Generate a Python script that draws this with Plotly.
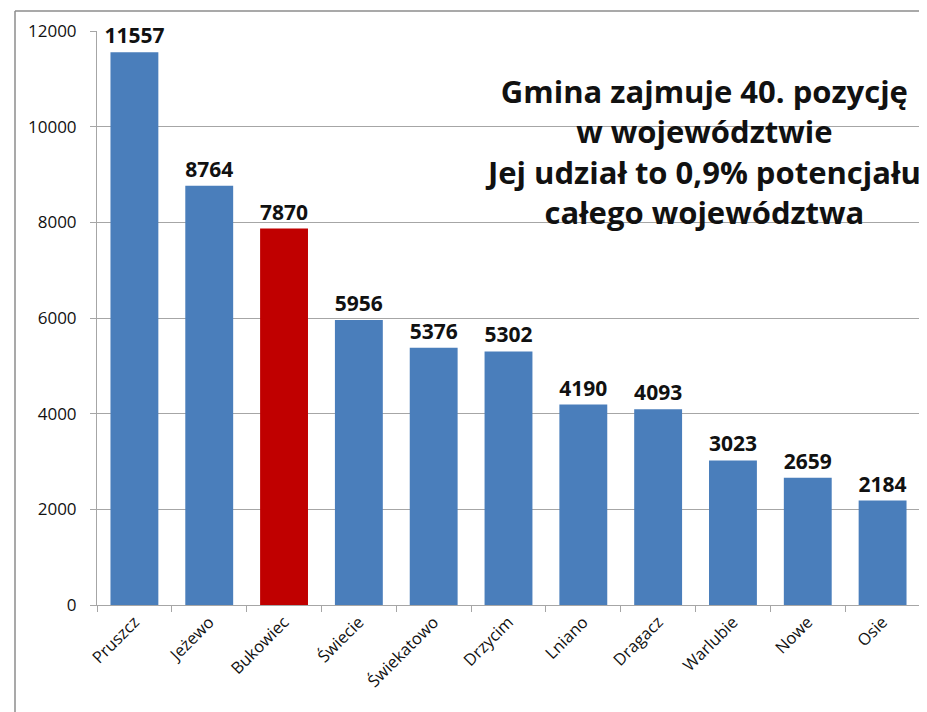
import plotly.graph_objects as go

categories = ["Pruszcz", "Jeżewo", "Bukowiec", "Świecie", "Świekatowo", "Drzycim",
              "Lniano", "Dragacz", "Warlubie", "Nowe", "Osie"]
values = [11557, 8764, 7870, 5956, 5376, 5302, 4190, 4093, 3023, 2659, 2184]
highlight = "Bukowiec"
y_ticks = [0, 2000, 4000, 6000, 8000, 10000, 12000]
y_tick_labels = ["0", "2000", "4000", "6000", "8000", "10000", "12000"]
note_lines = ["Gmina zajmuje 40. pozycję", "w województwie",
              "Jej udział to 0,9% potencjału", "całego województwa"]

BLUE = "#4a7ebb"
RED = "#c00000"
colors = [RED if c == highlight else BLUE for c in categories]

FONT = "Open Sans"

fig = go.Figure(go.Bar(
    x=categories, y=values,
    marker=dict(color=colors, line=dict(width=0)),
    text=[str(v) for v in values],
    textposition="outside",
    constraintext="none",
    textfont=dict(family=FONT, size=21, color="#111111", weight="bold"),
    cliponaxis=False,
))

# page body has an 8px margin; figure is sized so the plot lands where the reference has it
fig.update_layout(
    width=919, height=704,
    margin=dict(l=89, r=7, t=23, b=107, autoexpand=False),
    paper_bgcolor="white", plot_bgcolor="white",
    bargap=0.36,
    showlegend=False,
    font=dict(family=FONT, color="#111111"),
    xaxis=dict(
        tickangle=-45,
        tickfont=dict(family=FONT, size=16.5, color="#111111"),
        showline=True, linecolor="#a6a6a6", linewidth=1,
        ticks="outside", tickson="boundaries", ticklen=6, tickcolor="#a6a6a6",
        showgrid=False, automargin=False,
    ),
    yaxis=dict(
        range=[0, 12000],
        tickvals=y_ticks, ticktext=y_tick_labels,
        tickfont=dict(family=FONT, size=17, color="#111111"),
        showline=True, linecolor="#a6a6a6", linewidth=1,
        ticks="outside", ticklen=6, tickcolor="#a6a6a6",
        showgrid=True, gridcolor="#a6a6a6", gridwidth=1,
        zeroline=False, automargin=False,
        ticklabelstandoff=10,
    ),
    annotations=[dict(
        xref="paper", yref="paper", x=0.736, y=0.790,
        text="<br>".join(note_lines),
        showarrow=False, align="center",
        font=dict(family=FONT, size=31, color="#111111", weight="bold"),
        xanchor="center", yanchor="middle",
    )],
    shapes=[
        dict(type="line", xref="paper", yref="paper",
             x0=(15 - 97) / 823, x1=1.02, y0=(605 - 11) / 574, y1=(605 - 11) / 574,
             line=dict(color="#8c8c8c", width=1.5)),
        dict(type="line", xref="paper", yref="paper",
             x0=(15 - 97) / 823, x1=(15 - 97) / 823, y0=(605 - 11) / 574, y1=-0.3,
             line=dict(color="#8c8c8c", width=1.5)),
    ],
)

fig.write_html("out.html")
